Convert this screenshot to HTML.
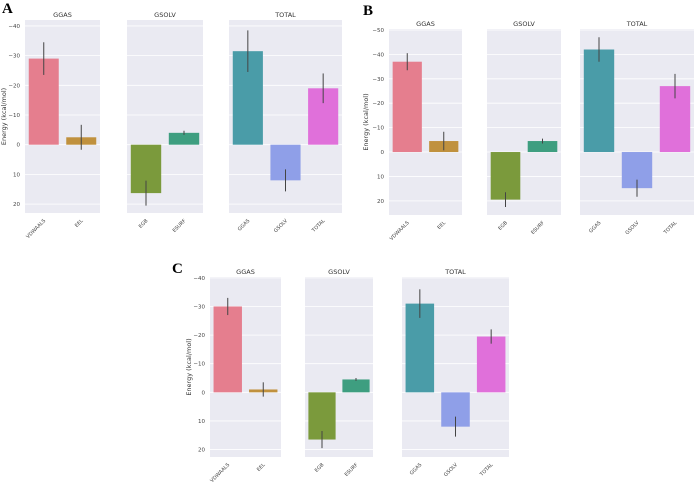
<!DOCTYPE html>
<html><head><meta charset="utf-8">
<style>
html,body{margin:0;padding:0;background:#fff;}
svg{display:block;font-family:"DejaVu Sans","Liberation Sans",sans-serif;}
</style></head>
<body>
<svg id="fig" width="696" height="482" viewBox="0 0 696 482" xmlns="http://www.w3.org/2000/svg"></svg>
<script>
const subplotTitles = ["GGAS", "GSOLV", "TOTAL"];
const groupCats = [["VDWAALS", "EEL"], ["EGB", "ESURF"], ["GGAS", "GSOLV", "TOTAL"]];
const barColors = [["#e57e8e", "#c0913e"], ["#7b9a3c", "#3e9e80"], ["#4a9ca8", "#8f9fe8", "#e070da"]];
const panelLetters = ["A", "B", "C"];
const valuesA = [[-29, -2.5], [16.3, -4], [-31.5, 12, -19]];
const errorsA = [[5.5, 4.2], [4.2, 0.7], [7, 3.7], [5]];
const valuesB = [[-37, -4.5], [19.5, -4.5], [-42, 14.8, -27]];
const errorsB = [[3.5, 3.8], [3, 1], [5, 3.5, 5]];
const valuesC = [[-30, -1], [16.5, -4.5], [-31, 12, -19.5]];
const errorsC = [[3, 2.5], [3, 0.5], [5, 3.5, 2.5]];
const ticksA = [-40, -30, -20, -10, 0, 10, 20];
const ticksB = [-50, -40, -30, -20, -10, 0, 10, 20];
const ticksC = [-40, -30, -20, -10, 0, 10, 20];
const domainA = [-42, 23];
const domainB = [-50.4, 25.8];
const domainC = [-40.3, 22.6];

errorsA[2] = [7, 3.7, 5];

const panels = [
  {vals: valuesA, errs: errorsA, ticks: ticksA, dom: domainA, top: 20, bot: 213,
   xs: [[25, 100], [127, 203], [229, 342]], letter: [2, 13], title: 17, ylab: 6},
  {vals: valuesB, errs: errorsB, ticks: ticksB, dom: domainB, top: 29, bot: 215,
   xs: [[389, 462], [487, 561], [580, 694]], letter: [363, 15], title: 26, ylab: 368},
  {vals: valuesC, errs: errorsC, ticks: ticksC, dom: domainC, top: 277, bot: 457,
   xs: [[210, 281], [305, 373], [402, 509]], letter: [172, 273], title: 274, ylab: 191}
];

const NS = "http://www.w3.org/2000/svg";
const svg = document.getElementById("fig");
function mk(tag, attrs, parent) {
  const e = document.createElementNS(NS, tag);
  for (const k in attrs) e.setAttribute(k, attrs[k]);
  (parent || svg).appendChild(e);
  return e;
}

panels.forEach((p, pi) => {
  const g = mk("g", {});
  
  
  const y = v => p.top + (v - p.dom[0]) / (p.dom[1] - p.dom[0]) * (p.bot - p.top);

  const lt = mk("text", {x: p.letter[0], y: p.letter[1], "font-family": "Liberation Serif, serif", "font-weight": "bold", "font-size": 15, fill: "#000"}, g);
  lt.textContent = panelLetters[pi];
  
  

  const cy = (p.top + p.bot) / 2;
  const yl = mk("text", {x: p.ylab, y: cy, transform: `rotate(-90 ${p.ylab} ${cy})`, "text-anchor": "middle", "font-size": 6.5, fill: "#333"}, g);
  yl.textContent = "Energy (kcal/mol)";
  
  

  p.xs.forEach((xr, si) => {
    const sg = mk("g", {}, g);
    
    
    const bg = mk("rect", {x: xr[0], y: p.top, width: xr[1] - xr[0], height: p.bot - p.top, fill: "#eaeaf2"}, sg);
    
    
    p.ticks.forEach(t => {
      const gl = mk("line", {x1: xr[0], x2: xr[1], y1: y(t), y2: y(t), stroke: "#fff", "stroke-width": 0.8}, sg);
      
      
      if (si === 0) {
        const tl = mk("text", {x: xr[0] - 5, y: y(t) + 2, "text-anchor": "end", "font-size": 5.5, fill: "#444"}, sg);
        tl.textContent = t === 0 ? "0" : (t < 0 ? "\u2212" + (-t) : String(t));
        
        
      }
    });
    const tt = mk("text", {x: (xr[0] + xr[1]) / 2, y: p.title, "text-anchor": "middle", "font-size": 6.5, fill: "#333"}, sg);
    tt.textContent = subplotTitles[si];
    
    

    const cats = groupCats[si];
    const slot = (xr[1] - xr[0]) / cats.length;
    cats.forEach((c, ci) => {
      const v = p.vals[si][ci], e = p.errs[si][ci];
      const cx = xr[0] + slot * (ci + 0.5);
      const bw = slot * 0.8;
      const y0 = y(0), y1 = y(v);
      const r = mk("rect", {x: cx - bw / 2, y: Math.min(y0, y1), width: bw, height: Math.abs(y1 - y0), fill: barColors[si][ci]}, sg);
      
      
      const el = mk("line", {x1: cx, x2: cx, y1: y(v - e), y2: y(v + e), stroke: "#444", "stroke-width": 1}, sg);
      
      
      const lx = cx + 2, ly = p.bot + 8;
      const xl = mk("text", {x: lx, y: ly, transform: `rotate(-45 ${lx} ${ly})`, "text-anchor": "end", "font-size": 5, fill: "#444"}, sg);
      xl.textContent = c;
      
      
    });
  });
});
</script>
</body></html>
